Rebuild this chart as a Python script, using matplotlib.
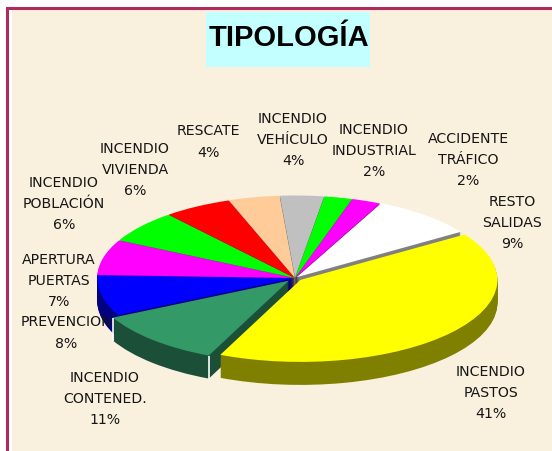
import matplotlib
matplotlib.use("Agg")
import matplotlib.pyplot as plt
import numpy as np
from matplotlib.patches import Rectangle

W, H = 552, 451
title = "TIPOLOGÍA"
categories = ["INCENDIO\nPASTOS", "INCENDIO\nCONTENED.", "PREVENCION", "APERTURA\nPUERTAS",
              "INCENDIO\nPOBLACIÓN", "INCENDIO\nVIVIENDA", "RESCATE", "INCENDIO\nVEHÍCULO",
              "INCENDIO\nINDUSTRIAL", "ACCIDENTE\nTRÁFICO", "RESTO\nSALIDAS"]
# slice sizes; the printed labels round them
values = [41.0, 10.9, 8, 7, 6.4, 5.6, 4.2, 3.6, 2.3, 2.4, 8.6]

top_colors = ["#FFFF00", "#339966", "#0000FF", "#FF00FF", "#00FF00", "#FF0000",
              "#FFCC99", "#C0C0C0", "#00FF00", "#FF00FF", "#FFFFFF"]
side_colors = ["#808000", "#1B4F38", "#000080", "#800080", "#008000", "#800000",
               "#808080", "#606060", "#008000", "#800080", "#808080"]
explode = [0.036, 0.045, 0.004, 0.004, 0.004, 0.004, 0.006, 0.006, 0.006, 0.006, 0.012]
label_xy = [(491, 393), (105, 399), (66, 333), (59, 281), (64, 204), (135, 170),
            (208, 142), (293, 140), (374, 151), (468, 160), (512, 223)]

BG = "#FAF0DE"
BORDER = "#B02A5E"
cx, cy, a, b = 295, 278, 197, 82
depth_px = 23
start = 33.6

fig = plt.figure(figsize=(W / 100, H / 100), dpi=100, facecolor="white")

# page background and frame, in pixel coordinates
bg = fig.add_axes([0, 0, 1, 1])
bg.set_xlim(0, W)
bg.set_ylim(H, 0)
bg.axis("off")
bg.add_patch(Rectangle((7, 8), W, H, fc=BG, ec=BORDER, lw=2.2))
bg.add_patch(Rectangle((8.5, 9.5), 3.5, H, fc="white", ec="none"))
bg.add_patch(Rectangle((206, 12), 164, 55, fc="#C4FFFF", ec="none"))
bg.text(289, 37.5, title, ha="center", va="center", fontsize=21, fontweight="bold",
        family="Liberation Sans", color="black")

# pie in its own axes, squeezed into an ellipse by the axis limits
ax = fig.add_axes([0, 0, 1, 1], zorder=2)
ax.patch.set_alpha(0)


def draw(colors, dy):
    wedges, _ = ax.pie(values, colors=colors, startangle=start, counterclock=False,
                       explode=explode, radius=1, center=(0, -dy / b),
                       wedgeprops={"linewidth": 0}, normalize=True)
    return wedges


for d in range(depth_px, 0, -1):
    draw(side_colors, d)
top = draw(top_colors, 0)

ax.set_aspect("auto")
ax.set_xlim(-cx / a, (W - cx) / a)
ax.set_ylim(-(H - cy) / b, cy / b)
ax.axis("off")

# thin white edges on the corners of the green slice's outer wall
w = top[1]
for ang in (w.theta1, w.theta2):
    x = w.center[0] + np.cos(np.radians(ang))
    y = w.center[1] + np.sin(np.radians(ang))
    ax.plot([x, x], [y, y - depth_px / b], color="white", lw=1.2, solid_capstyle="butt", zorder=5)

# labels
ov = fig.add_axes([0, 0, 1, 1], zorder=3)
ov.set_xlim(0, W)
ov.set_ylim(H, 0)
ov.axis("off")
for name, val, (x, y) in zip(categories, values, label_xy):
    ov.text(x, y, f"{name}\n{val:.0f}%", ha="center", va="center", fontsize=10.2,
            family="DejaVu Sans", color="#161616", linespacing=1.68, multialignment="center")

fig.savefig("out.png", dpi=100, facecolor="white")
